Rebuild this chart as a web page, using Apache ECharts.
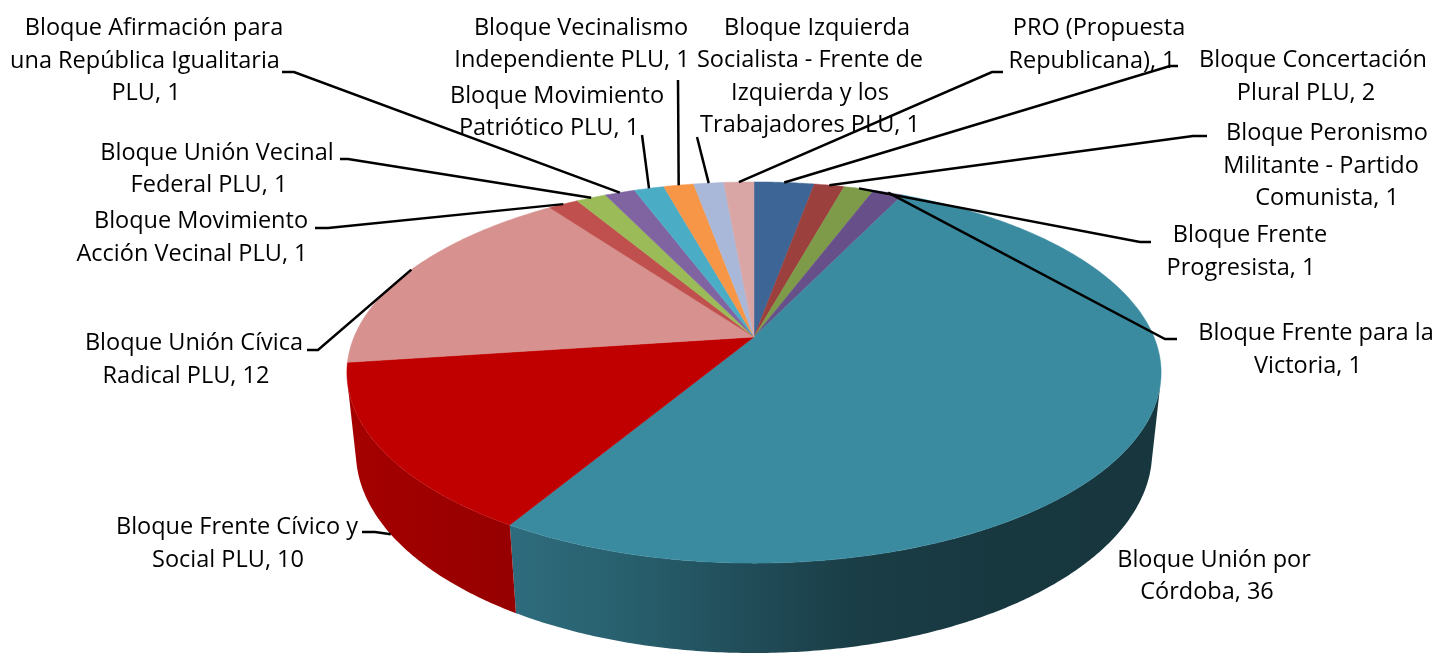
<!DOCTYPE html>
<html><head><meta charset="utf-8">
<script src="https://cdn.jsdelivr.net/npm/echarts@6/dist/echarts.min.js"></script>
<style>html,body{margin:0;padding:0;background:#fff}#c{width:1435px;height:654px}</style>
</head><body><div id="c"></div>
<script>
// ---- data (clockwise from 12 o'clock) ----
const categories = [
  "Bloque Concertación\nPlural PLU",
  "Bloque Peronismo\nMilitante - Partido\nComunista",
  "Bloque Frente\nProgresista",
  "Bloque Frente para la\nVictoria",
  "Bloque Unión por\nCórdoba",
  "Bloque Frente Cívico y\nSocial PLU",
  "Bloque Unión Cívica\nRadical PLU",
  "Bloque Movimiento\nAcción Vecinal PLU",
  "Bloque Unión Vecinal\nFederal PLU",
  "Bloque Afirmación para\nuna República Igualitaria\nPLU",
  "Bloque Movimiento\nPatriótico PLU",
  "Bloque Vecinalismo\nIndependiente PLU",
  "Bloque Izquierda\nSocialista - Frente de\nIzquierda y los\nTrabajadores PLU",
  "PRO (Propuesta\nRepublicana)"
];
const values = [2, 1, 1, 1, 36, 10, 12, 1, 1, 1, 1, 1, 1, 1];
const colors = ["#3D6696", "#9C403E", "#7D9B49", "#67508A", "#3B8BA0", "#C00000", "#D79290",
                "#C0504D", "#9BBB59", "#8064A2", "#4BACC6", "#F79646", "#A9B8D8", "#D9A6A5"];

// ---- label layout (line centre x's, first line y, leader points, anchor) ----
const labelLayout = [
  {lx:[1313,1306], ly:59.5, lead:[[1178,66],[1170,66]], anchor:'top'},
  {lx:[1327,1321,1327], ly:132.5, lead:[[1207,136],[1193,136]], anchor:'top'},
  {lx:[1250,1241], ly:234.5, lead:[[1151,242],[1140,242]], anchor:'top'},
  {lx:[1316,1308], ly:332.5, lead:[[1177,339],[1165,339]], anchor:'top'},
  {lx:[1214,1207], ly:559, lead:null, anchor:null},
  {lx:[237,228], ly:526.5, lead:[[362,532],[375,532]], anchor:'bottom'},
  {lx:[194,186], ly:342.5, lead:[[307,350],[318,350]], anchor:'top'},
  {lx:[201,192], ly:220.8, lead:[[315,228],[328,228]], anchor:'top'},
  {lx:[217,209], ly:152, lead:[[340,159],[348,159]], anchor:'top'},
  {lx:[154,145,146], ly:27.5, lead:[[282,72],[294,72]], anchor:'top'},
  {lx:[557,549], ly:95, lead:[[642,135]], anchor:'top'},
  {lx:[581,572], ly:27, lead:[[678,80]], anchor:'top'},
  {lx:[817,810,810,810], ly:27, lead:[[697,137]], anchor:'top'},
  {lx:[1099,1092], ly:27.5, lead:[[1003,72],[992,72]], anchor:'top'}
];

const chart = echarts.init(document.getElementById('c'), null, {renderer: 'canvas'});

// perspective view of a 3D disc
const V = {cx: 754, cy: 337, f: 1905.5, D: 1, R: 0.2099, h: 0.0473, sinA: 0.46, cosA: 0.8879};
function proj(phi, yw, r) {
  if (r === undefined) r = V.R;
  const X = r * Math.sin(phi), Zw = -r * Math.cos(phi);
  const Yp = Zw * V.sinA - yw * V.cosA;
  const Zp = Zw * V.cosA + yw * V.sinA;
  const s = V.f / (V.D - Zp);
  return [V.cx + X * s, V.cy + Yp * s];
}
const total = values.reduce((a, b) => a + b, 0);
const cum = [0];
values.forEach((v, i) => cum.push(cum[i] + v));
function sliceAngles(i, v) {
  const a0 = cum[i] / total * 2 * Math.PI;
  return [a0, a0 + v / total * 2 * Math.PI];
}
function arc(a, b, yw) {
  const pts = [];
  const n = Math.max(2, Math.ceil((b - a) / (Math.PI / 360)));
  for (let k = 0; k <= n; k++) pts.push(proj(a + (b - a) * k / n, yw));
  return pts;
}
function hexRgb(h) { const n = parseInt(h.slice(1), 16); return [(n >> 16) & 255, (n >> 8) & 255, n & 255]; }
const shadeStops = [[0, 0.86], [0.2, 0.78], [0.35, 0.68], [0.48, 0.56], [0.63, 0.44], [0.8, 0.40], [1, 0.39]];
function wallFill(hex) {
  const c = hexRgb(hex);
  return new echarts.graphic.LinearGradient(347, 0, 1161, 0,
    shadeStops.map(s => ({offset: s[0], color: 'rgb(' + c.map(x => Math.round(x * s[1])).join(',') + ')'})), true);
}
const silC = Math.acos(-V.R / (V.D * V.cosA));
const visA = silC, visB = 2 * Math.PI - silC;

const seriesData = values.map((v, i) => ({name: categories[i], value: v}));
const FONT = '23.5px "Open Sans"';

chart.setOption({
  backgroundColor: '#ffffff',
  animation: false,
  series: [
    { // side walls
      type: 'custom', coordinateSystem: 'none', silent: true, z: 1,
      data: seriesData,
      renderItem: function (params, api) {
        const i = params.dataIndex;
        const [a0, a1] = sliceAngles(i, api.value(0));
        const a = Math.max(a0, visA), b = Math.min(a1, visB);
        if (b <= a) return null;
        const pts = arc(a, b, 0).concat(arc(a, b, -V.h).reverse());
        return {type: 'polygon', shape: {points: pts}, style: {fill: wallFill(colors[i])}};
      }
    },
    { // top faces
      type: 'custom', coordinateSystem: 'none', silent: true, z: 2,
      data: seriesData,
      renderItem: function (params, api) {
        const i = params.dataIndex;
        const [a0, a1] = sliceAngles(i, api.value(0));
        const pts = [proj(0, 0, 0)].concat(arc(a0, a1, 0));
        return {type: 'polygon', shape: {points: pts},
          style: {fill: colors[i], stroke: colors[i], lineWidth: 0.5}};
      }
    },
    { // labels + leader lines
      type: 'custom', coordinateSystem: 'none', silent: true, z: 3,
      data: seriesData,
      renderItem: function (params, api) {
        const i = params.dataIndex;
        const v = api.value(0);
        const L = labelLayout[i];
        const children = [];
        const lines = (categories[i] + ', ' + v).split('\n');
        lines.forEach((t, k) => {
          children.push({type: 'text', style: {text: t, x: L.lx[k], y: L.ly + k * 32.5 + 1,
            font: FONT, fill: '#000', align: 'center', verticalAlign: 'middle'}});
        });
        if (L.lead) {
          const [a0, a1] = sliceAngles(i, v);
          const mid = (a0 + a1) / 2;
          const anc = proj(mid, L.anchor === 'bottom' ? -V.h : 0);
          children.push({type: 'polyline', shape: {points: L.lead.concat([anc])},
            style: {stroke: '#000', lineWidth: 2.5, fill: null}});
        }
        return {type: 'group', children: children};
      }
    }
  ]
});
</script>
</body></html>
